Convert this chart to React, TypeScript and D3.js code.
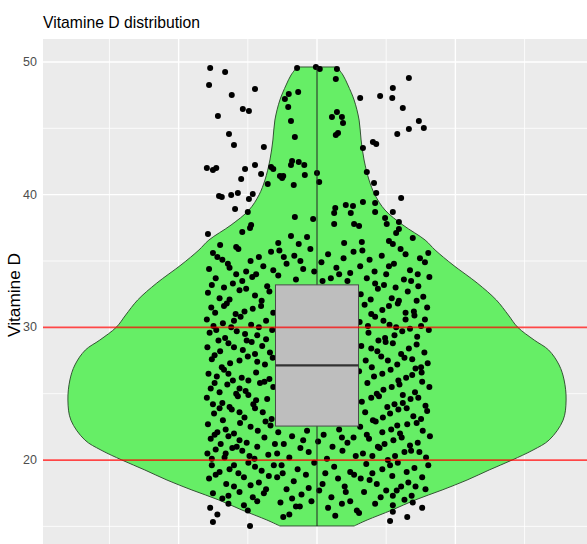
import React from 'react';
import * as d3 from 'd3';

const titleText = 'Vitamine D distribution';
const yLabelText = 'Vitamine D';
const yMajorTicks = [20, 30, 40, 50];
const yMinorTicks = [15, 25, 35, 45];
const xMajorTicks = [0.75, 1, 1.25];
const xMinorTicks = [0.625, 0.875, 1.125, 1.375];
const referenceLines = [20, 30];

// violin outline: value and relative density (max = 1)
const violinValues = [49.62, 49.02, 48.26, 47.13, 45.62, 44.12, 42.61, 41.10, 39.97, 38.84, 37.71, 36.58, 35.83, 34.70, 33.34, 32.06, 30.93, 30.02, 29.04, 28.29, 27.16, 26.03, 24.52, 23.01, 21.51, 20.75, 20.00, 19.25, 18.49, 17.74, 16.99, 16.23, 15.48, 15.03];
const violinDensity = [0.080, 0.104, 0.124, 0.149, 0.169, 0.177, 0.189, 0.209, 0.233, 0.273, 0.345, 0.434, 0.474, 0.546, 0.643, 0.720, 0.768, 0.805, 0.872, 0.930, 0.972, 0.992, 1.0, 0.988, 0.932, 0.867, 0.783, 0.691, 0.602, 0.502, 0.394, 0.301, 0.201, 0.149];

// box statistics: min, q1, median, q3, max
const boxStats = [15.03, 22.56, 27.14, 33.2, 49.62];

// jittered points: [horizontal jitter offset, vitamin D value]
const jitterPoints: [number, number][] = [
  [-0.193, 49.54], [-0.166, 49.24], [-0.195, 48.26], [-0.154, 47.51], [-0.112, 47.96], [-0.134, 46.45], [-0.123, 46.30], [-0.179, 45.93],
  [-0.159, 44.57], [-0.150, 43.74], [-0.096, 43.59], [-0.199, 42.01], [-0.188, 41.86], [-0.182, 42.01], [-0.130, 41.93], [-0.112, 42.23],
  [-0.083, 42.08], [-0.079, 41.93], [-0.067, 41.40], [-0.063, 41.25], [-0.061, 41.40], [-0.101, 41.55], [-0.137, 41.18], [-0.089, 40.80],
  [-0.042, 40.73], [-0.022, 41.48], [-0.047, 42.23], [-0.045, 42.53], [-0.033, 42.46], [-0.023, 42.23], [-0.177, 39.90], [-0.172, 39.82],
  [-0.155, 39.97], [-0.143, 40.12], [-0.116, 40.05], [-0.123, 39.67], [-0.148, 38.92], [-0.125, 38.69], [-0.197, 37.03], [-0.135, 37.18],
  [-0.121, 37.48], [-0.119, 37.71], [-0.175, 36.20], [-0.146, 36.05],
  [-0.036, 49.54], [-0.002, 49.62], [0.005, 49.47], [0.036, 49.47], [0.034, 48.71], [-0.051, 47.58], [-0.034, 47.73], [-0.058, 47.21],
  [-0.052, 46.60], [-0.047, 45.55], [-0.040, 44.34], [0.000, 41.63], [0.004, 40.95], [-0.040, 38.31], [-0.007, 38.16], [-0.047, 36.88],
  [-0.033, 36.28], [-0.018, 36.81], [-0.070, 36.35],
  [0.036, 46.23], [0.027, 45.85], [0.045, 45.85], [0.047, 45.40], [0.034, 44.49], [0.038, 44.64], [0.078, 47.28], [0.114, 47.43],
  [0.137, 48.04], [0.136, 47.28], [0.166, 48.79], [0.155, 46.53], [0.184, 45.55], [0.193, 45.02], [0.166, 44.95], [0.145, 44.57],
  [0.083, 43.51], [0.101, 43.97], [0.107, 43.81], [0.090, 41.70], [0.103, 40.88], [0.107, 40.12], [0.152, 39.75], [0.083, 39.44],
  [0.105, 39.37], [0.033, 38.99], [0.052, 39.22], [0.065, 39.14], [0.061, 38.61], [0.031, 38.61], [0.105, 38.69], [0.137, 38.69],
  [0.031, 37.79], [0.067, 37.79], [0.076, 37.64], [0.123, 38.24], [0.126, 37.79], [0.148, 37.94], [0.143, 37.11], [0.148, 37.41],
  [0.173, 36.73], [0.130, 36.50], [0.049, 36.35], [0.081, 36.43], [0.137, 36.28],
  // left column
  [-0.188, 35.6], [-0.142, 35.9], [-0.105, 35.3], [-0.171, 35.1], [-0.083, 35.7],
  [-0.195, 34.4], [-0.161, 34.8], [-0.128, 34.2], [-0.097, 34.6], [-0.146, 34.0], [-0.079, 34.3],
  [-0.183, 33.7], [-0.152, 33.3], [-0.117, 33.8], [-0.090, 33.1], [-0.168, 33.0], [-0.135, 33.5],
  [-0.197, 32.6], [-0.176, 32.2], [-0.140, 32.8], [-0.112, 32.4], [-0.086, 32.7], [-0.158, 32.1],
  [-0.191, 31.5], [-0.163, 31.8], [-0.131, 31.2], [-0.101, 31.6], [-0.079, 31.1], [-0.147, 31.0], [-0.184, 31.1],
  [-0.199, 30.6], [-0.170, 30.3], [-0.138, 30.8], [-0.119, 30.2], [-0.092, 30.5], [-0.155, 30.0], [-0.187, 30.1],
  [-0.194, 29.6], [-0.166, 29.2], [-0.145, 29.7], [-0.108, 29.4], [-0.081, 29.8], [-0.127, 29.0], [-0.178, 29.0],
  [-0.198, 28.5], [-0.160, 28.8], [-0.134, 28.3], [-0.099, 28.6], [-0.085, 28.1], [-0.175, 28.2], [-0.118, 28.9],
  [-0.190, 27.6], [-0.157, 27.3], [-0.125, 27.8], [-0.094, 27.2], [-0.172, 27.0], [-0.140, 27.5], [-0.080, 27.7],
  [-0.196, 26.5], [-0.168, 26.8], [-0.136, 26.2], [-0.110, 26.6], [-0.086, 26.1], [-0.152, 26.0], [-0.181, 26.3],
  [-0.192, 25.4], [-0.162, 25.7], [-0.129, 25.2], [-0.103, 25.8], [-0.079, 25.5], [-0.146, 25.0], [-0.176, 25.1],
  [-0.199, 24.7], [-0.171, 24.3], [-0.143, 24.8], [-0.115, 24.2], [-0.090, 24.6], [-0.158, 24.0], [-0.124, 24.9],
  [-0.186, 23.5], [-0.154, 23.8], [-0.131, 23.2], [-0.098, 23.6], [-0.082, 23.1], [-0.170, 23.0], [-0.112, 23.9],
  [-0.197, 22.7], [-0.165, 22.3], [-0.139, 22.8], [-0.107, 22.2], [-0.084, 22.6], [-0.150, 22.0], [-0.180, 22.1],
  [-0.192, 21.6], [-0.160, 21.8], [-0.127, 21.3], [-0.095, 21.7], [-0.076, 21.2], [-0.145, 21.0], [-0.174, 21.2],
  [-0.198, 20.5], [-0.167, 20.2], [-0.135, 20.7], [-0.113, 20.1], [-0.088, 20.4], [-0.153, 20.9], [-0.183, 20.8],
  [-0.190, 19.6], [-0.158, 19.3], [-0.124, 19.8], [-0.100, 19.2], [-0.078, 19.6], [-0.142, 19.0], [-0.176, 19.1],
  [-0.195, 18.6], [-0.164, 18.2], [-0.132, 18.7], [-0.105, 18.3], [-0.087, 18.8], [-0.150, 18.0],
  [-0.188, 17.5], [-0.171, 17.1], [-0.140, 17.6], [-0.116, 17.2], [-0.092, 17.8],
  [-0.193, 16.4], [-0.180, 15.9], [-0.160, 16.7], [-0.125, 16.2], [-0.108, 16.9], [-0.188, 15.33], [-0.121, 15.03],
  [-0.180, 35.3], [-0.120, 35.0], [-0.158, 34.5], [-0.110, 34.0], [-0.190, 33.2], [-0.128, 32.9], [-0.100, 32.0], [-0.168, 31.6],
  [-0.116, 31.4], [-0.150, 30.5], [-0.105, 30.0], [-0.182, 29.8], [-0.130, 29.5], [-0.092, 29.1], [-0.150, 28.5], [-0.112, 28.0],
  [-0.185, 27.9], [-0.108, 27.4], [-0.160, 26.5], [-0.124, 26.0], [-0.095, 25.9], [-0.185, 25.8], [-0.140, 25.4], [-0.110, 24.5],
  [-0.188, 24.2], [-0.140, 23.6], [-0.176, 23.9], [-0.120, 22.5], [-0.093, 22.9], [-0.185, 21.9], [-0.140, 21.5], [-0.108, 21.0],
  [-0.165, 20.5], [-0.122, 20.3], [-0.190, 20.1], [-0.150, 19.6], [-0.112, 19.5], [-0.183, 18.9], [-0.120, 18.1], [-0.096, 17.5],
  [-0.160, 17.3], [-0.132, 16.6],
  // center above box
  [-0.068, 35.8], [-0.041, 35.4], [-0.012, 35.9], [0.020, 35.5], [0.048, 35.2], [0.066, 35.7], [-0.055, 34.8], [-0.025, 34.4],
  [0.008, 34.9], [0.035, 34.5], [0.060, 34.1], [-0.070, 33.9], [-0.038, 33.6], [0.025, 33.7], [0.055, 33.5], [-0.005, 34.2],
  [-0.030, 35.0], [0.040, 34.0], [0.010, 33.5], [-0.060, 35.3],
  // center below box
  [-0.070, 22.1], [-0.045, 21.8], [-0.018, 22.2], [0.012, 21.9], [0.040, 22.3], [0.066, 21.7],
  [-0.060, 21.2], [-0.030, 20.9], [0.002, 21.4], [0.028, 21.0], [0.055, 21.3], [-0.072, 20.5],
  [-0.050, 20.2], [-0.015, 20.6], [0.018, 20.1], [0.046, 20.7], [0.070, 20.3],
  [-0.064, 19.6], [-0.035, 19.3], [-0.005, 19.8], [0.031, 19.5], [0.060, 19.1],
  [-0.072, 18.7], [-0.042, 18.4], [-0.020, 18.9], [0.010, 18.2], [0.038, 18.6], [0.067, 18.9],
  [-0.055, 17.8], [-0.028, 17.4], [0.004, 17.7], [0.026, 17.2], [0.052, 17.6],
  [-0.066, 16.8], [-0.038, 16.5], [-0.010, 16.9], [0.020, 16.4], [0.045, 16.7], [0.072, 16.2],
  [-0.050, 15.9], [-0.061, 15.7], [0.033, 15.8], [-0.031, 16.5],
  [-0.025, 21.5], [0.045, 21.7], [-0.062, 19.0], [0.015, 19.0], [0.050, 18.0], [-0.015, 17.9], [0.060, 16.9], [-0.045, 17.1],
  // right column
  [0.082, 35.8], [0.117, 35.4], [0.151, 35.9], [0.186, 35.2], [0.201, 35.6],
  [0.078, 34.6], [0.104, 34.2], [0.139, 34.8], [0.168, 34.3], [0.195, 34.9], [0.125, 34.0],
  [0.090, 33.7], [0.121, 33.2], [0.157, 33.6], [0.183, 33.1], [0.203, 33.8], [0.142, 33.0],
  [0.079, 32.5], [0.110, 32.9], [0.135, 32.2], [0.164, 32.7], [0.192, 32.3], [0.148, 32.0],
  [0.086, 31.7], [0.118, 31.3], [0.146, 31.8], [0.175, 31.2], [0.199, 31.5], [0.098, 31.0],
  [0.077, 30.4], [0.105, 30.8], [0.131, 30.2], [0.160, 30.6], [0.188, 30.1], [0.176, 30.9], [0.143, 30.0],
  [0.093, 29.6], [0.123, 29.2], [0.154, 29.7], [0.181, 29.3], [0.202, 29.8], [0.111, 29.0],
  [0.080, 28.6], [0.109, 28.2], [0.137, 28.8], [0.166, 28.4], [0.194, 28.1], [0.152, 28.0], [0.124, 28.9],
  [0.088, 27.5], [0.116, 27.8], [0.145, 27.2], [0.172, 27.6], [0.200, 27.3], [0.099, 27.0],
  [0.076, 26.7], [0.103, 26.3], [0.133, 26.8], [0.161, 26.2], [0.189, 26.6], [0.147, 26.0], [0.178, 26.9],
  [0.091, 25.8], [0.120, 25.3], [0.149, 25.7], [0.177, 25.1], [0.203, 25.5], [0.108, 25.0],
  [0.081, 24.4], [0.112, 24.8], [0.140, 24.2], [0.169, 24.6], [0.196, 24.1], [0.155, 24.9], [0.127, 24.0],
  [0.087, 23.6], [0.119, 23.2], [0.147, 23.8], [0.174, 23.3], [0.199, 23.7], [0.101, 23.0],
  [0.078, 22.5], [0.106, 22.9], [0.134, 22.3], [0.163, 22.7], [0.191, 22.2], [0.150, 22.0], [0.180, 22.8],
  [0.094, 21.6], [0.122, 21.2], [0.153, 21.7], [0.182, 21.3], [0.204, 21.8], [0.110, 21.0],
  [0.083, 20.5], [0.113, 20.9], [0.141, 20.3], [0.170, 20.7], [0.197, 20.2], [0.128, 20.0], [0.158, 20.6],
  [0.089, 19.7], [0.118, 19.3], [0.146, 19.8], [0.176, 19.4], [0.201, 19.6], [0.100, 19.0],
  [0.079, 18.6], [0.108, 18.2], [0.136, 18.8], [0.165, 18.3], [0.190, 18.7], [0.152, 18.0],
  [0.085, 17.6], [0.115, 17.2], [0.144, 17.7], [0.171, 17.3], [0.196, 17.8],
  [0.132, 15.4], [0.163, 15.7], [0.190, 16.4], [0.173, 16.8], [0.137, 16.1], [0.137, 16.6], [0.137, 17.3], [0.076, 16.0], [0.105, 16.7],
  [0.095, 35.1], [0.160, 35.5], [0.130, 34.6], [0.182, 34.0], [0.105, 33.3], [0.170, 33.5], [0.097, 32.1], [0.180, 32.0],
  [0.130, 31.6], [0.160, 31.1], [0.092, 30.1], [0.120, 30.5], [0.195, 30.6], [0.140, 29.4], [0.168, 29.9], [0.098, 28.4],
  [0.180, 28.7], [0.128, 27.5], [0.158, 27.7], [0.188, 27.0], [0.118, 26.5], [0.172, 26.4], [0.135, 25.5], [0.190, 25.9],
  [0.098, 24.7], [0.155, 24.3], [0.183, 24.7], [0.132, 23.5], [0.162, 23.9], [0.188, 23.1], [0.118, 22.1], [0.145, 22.6],
  [0.090, 21.9], [0.138, 21.5], [0.168, 21.1], [0.100, 20.3], [0.185, 20.6], [0.132, 19.6], [0.162, 19.1], [0.095, 18.5],
  [0.178, 18.0], [0.125, 17.7], [0.158, 17.0],
];

const W = 587;
const H = 544;
const NARROW = "'Liberation Sans Narrow', 'Arial Narrow', 'Liberation Sans', Arial, sans-serif";
const SANS = "'Liberation Sans', Arial, sans-serif";

export default function App() {
  const panel = { left: 43, top: 39, right: 591, bottom: 549.6 };
  const x = d3.scaleLinear().domain([0.505, 1.495]).range([panel.left, panel.right]);
  const y = d3.scaleLinear().domain([13.25, 51.73]).range([panel.bottom, panel.top]);
  const violinHalf = 0.45;
  const boxHalf = 0.075;

  const idx = violinValues.map((_, i) => i);
  const violinPath = d3
    .area<number>()
    .y((i) => y(violinValues[i]))
    .x0((i) => x(1 - violinDensity[i] * violinHalf))
    .x1((i) => x(1 + violinDensity[i] * violinHalf))
    .curve(d3.curveCatmullRom)(idx) as string;

  const [wMin, q1, med, q3, wMax] = boxStats;

  return (
    <svg
      width={W}
      height={H}
      style={{ position: 'absolute', left: 0, top: 0, display: 'block' }}
    >
      <rect x={0} y={0} width={W} height={H} fill="#ffffff" />
      <rect
        x={panel.left}
        y={panel.top}
        width={panel.right - panel.left}
        height={panel.bottom - panel.top}
        fill="#ebebeb"
      />
      {yMinorTicks.map((t) => (
        <line key={'ym' + t} x1={panel.left} x2={panel.right} y1={y(t)} y2={y(t)} stroke="#ffffff" strokeWidth={0.8} />
      ))}
      {xMinorTicks.map((t) => (
        <line key={'xm' + t} x1={x(t)} x2={x(t)} y1={panel.top} y2={panel.bottom} stroke="#ffffff" strokeWidth={0.8} />
      ))}
      {yMajorTicks.map((t) => (
        <line key={'yM' + t} x1={panel.left} x2={panel.right} y1={y(t)} y2={y(t)} stroke="#ffffff" strokeWidth={1.4} />
      ))}
      {xMajorTicks.map((t) => (
        <line key={'xM' + t} x1={x(t)} x2={x(t)} y1={panel.top} y2={panel.bottom} stroke="#ffffff" strokeWidth={1.4} />
      ))}

      <path d={violinPath} fill="#66ee66" stroke="#345434" strokeWidth={1} />

      {jitterPoints.map((p, i) => (
        <circle key={'p' + i} cx={x(1 + p[0])} cy={y(p[1])} r={3} fill="#000000" />
      ))}

      <line x1={x(1)} x2={x(1)} y1={y(q3)} y2={y(wMax)} stroke="#222222" strokeWidth={1} />
      <line x1={x(1)} x2={x(1)} y1={y(q1)} y2={y(wMin)} stroke="#222222" strokeWidth={1} />
      <rect
        x={x(1 - boxHalf)}
        y={y(q3)}
        width={x(1 + boxHalf) - x(1 - boxHalf)}
        height={y(q1) - y(q3)}
        fill="#bebebe"
        stroke="#4a4a4a"
        strokeWidth={1}
      />
      <line x1={x(1 - boxHalf)} x2={x(1 + boxHalf)} y1={y(med)} y2={y(med)} stroke="#333333" strokeWidth={2.2} />

      {referenceLines.map((r) => (
        <line
          key={'r' + r}
          x1={panel.left}
          x2={panel.right}
          y1={y(r)}
          y2={y(r)}
          stroke="#ff0000"
          strokeOpacity={0.72}
          strokeWidth={1.8}
        />
      ))}

      {yMajorTicks.map((t) => (
        <text
          key={'yl' + t}
          x={37}
          y={y(t)}
          textAnchor="end"
          dominantBaseline="central"
          fontFamily={NARROW}
          fontSize={12.5}
          fill="#4d4d4d"
        >
          {t}
        </text>
      ))}

      <text
        x={43}
        y={28}
        fontFamily={NARROW}
        fontSize={17}
        fill="#000000"
        textLength={157}
        lengthAdjust="spacingAndGlyphs"
      >
        {titleText}
      </text>

      <text
        transform={`translate(14, 295) rotate(-90)`}
        textAnchor="middle"
        dominantBaseline="central"
        fontFamily={SANS}
        fontSize={16}
        fill="#000000"
        textLength={84}
        lengthAdjust="spacingAndGlyphs"
      >
        {yLabelText}
      </text>
    </svg>
  );
}
